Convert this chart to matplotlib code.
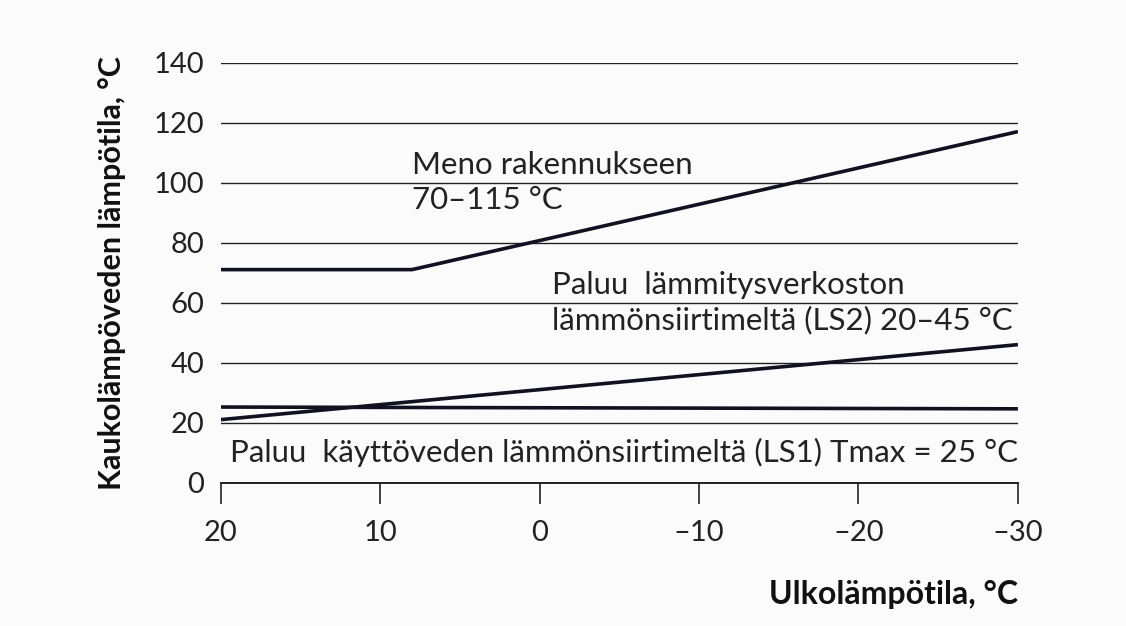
import matplotlib
matplotlib.use('Agg')
import matplotlib.pyplot as plt

# ulkolämpötila (x) ja kaukolämpöveden lämpötilat (y)
meno_x = [20, 8, -30]
meno_y = [71, 71, 117]
ls2_x = [20, -30]
ls2_y = [21, 46]
ls1_x = [20, -30]
ls1_y = [25.2, 24.6]

x_ticks = [20, 10, 0, -10, -20, -30]
x_tick_labels = ['20', '10', '0', '–10', '–20', '–30']
y_ticks = [0, 20, 40, 60, 80, 100, 120, 140]
y_tick_labels = ['0', '20', '40', '60', '80', '100', '120', '140']

plt.rcParams['font.family'] = ['Lato', 'DejaVu Sans']

fig = plt.figure(figsize=(11.26, 6.26), dpi=100)
fig.patch.set_facecolor('#fbfbfb')
ax = fig.add_axes([0.196, 0.229, 0.708, 0.671])
ax.set_facecolor('#fbfbfb')

# vaakasuorat apuviivat
for y in y_ticks[1:]:
    ax.axhline(y, color='#222222', lw=1.0, zorder=1)

ax.plot(meno_x, meno_y, color='#111122', lw=2.6, solid_capstyle='butt', zorder=3)
ax.plot(ls2_x, ls2_y, color='#111122', lw=2.6, solid_capstyle='butt', zorder=3)
ax.plot(ls1_x, ls1_y, color='#111122', lw=2.6, solid_capstyle='butt', zorder=3)

ax.set_xlim(20, -30)
ax.set_ylim(0, 140)

for s in ['top', 'right', 'left']:
    ax.spines[s].set_visible(False)
ax.spines['bottom'].set_linewidth(1.4)
ax.spines['bottom'].set_color('#222222')

ax.set_xticks(x_ticks)
ax.set_xticklabels(x_tick_labels)
ax.set_yticks(y_ticks)
ax.set_yticklabels(y_tick_labels)
ax.tick_params(axis='x', direction='out', length=15, width=1.2, color='#222222',
               pad=12, labelsize=21, labelcolor='#222222')
ax.tick_params(axis='y', length=0, pad=12, labelsize=21, labelcolor='#222222')

ax.set_ylabel('Kaukolämpöveden lämpötila, °C', fontsize=22, fontweight='bold',
              color='#111111', labelpad=20)
ax.set_xlabel('Ulkolämpötila, °C', fontsize=23, fontweight='bold',
              color='#111111', loc='right', labelpad=24)

txt = dict(fontsize=22.5, color='#222222', ha='left', va='center', zorder=4)
ax.text(8, 106, 'Meno rakennukseen', **txt)
ax.text(8, 94.2, '70–115 °C', **txt)
ax.text(-0.8, 66, 'Paluu  lämmitysverkoston', **txt)
ax.text(-0.8, 54.2, 'lämmönsiirtimeltä (LS2) 20–45 °C', **txt)
ax.text(19.4, 10.2, 'Paluu  käyttöveden lämmönsiirtimeltä (LS1) Tmax = 25 °C', **txt)

fig.savefig('out.png', dpi=100, facecolor=fig.get_facecolor())
